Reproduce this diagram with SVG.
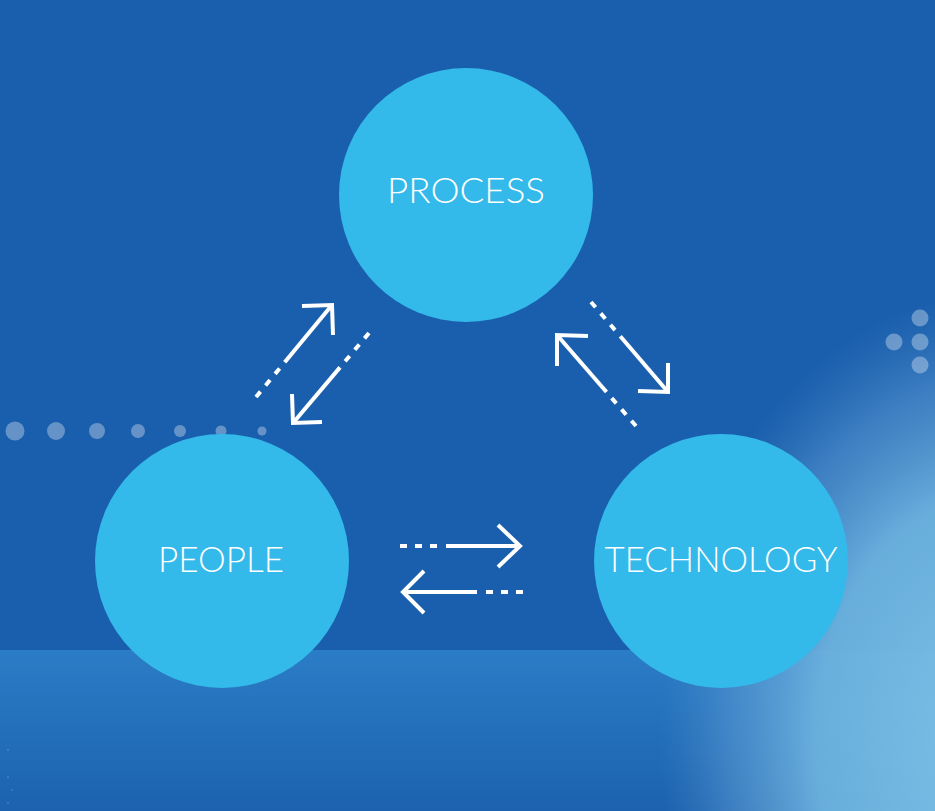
<svg xmlns="http://www.w3.org/2000/svg" width="935" height="811" viewBox="0 0 935 811">
<defs>
<linearGradient id="band" x1="0" y1="0" x2="0" y2="1">
<stop offset="0" stop-color="#2b7cc6"/>
<stop offset="1" stop-color="#1c62ae"/>
</linearGradient>
<radialGradient id="glow" gradientUnits="userSpaceOnUse" cx="0" cy="0" r="1" gradientTransform="translate(1005,740) scale(345,450)">
<stop offset="0" stop-color="#7cc2e8" stop-opacity="1"/>
<stop offset="0.55" stop-color="#6cb2de" stop-opacity="0.95"/>
<stop offset="0.8" stop-color="#5a9ad2" stop-opacity="0.55"/>
<stop offset="1" stop-color="#4a8acb" stop-opacity="0"/>
</radialGradient>
<style>
.node circle{fill:#33b9ea}
.lbl{font-family:Lato,"Open Sans","Liberation Sans",sans-serif;font-weight:300;font-size:35px;fill:#ffffff;text-anchor:middle}
.ln{stroke:#ffffff;stroke-width:4;fill:none;stroke-linecap:butt}
.dot{stroke-dasharray:7 8}
.hd{stroke:#ffffff;stroke-width:4;fill:none;stroke-linejoin:miter}
.bd{fill:#ffffff;fill-opacity:0.33}
</style>
</defs>
<rect width="935" height="811" fill="#1a5fad"/>
<rect x="0" y="650" width="935" height="161" fill="url(#band)"/>
<rect x="0" y="0" width="935" height="811" fill="url(#glow)"/>
<g id="dots-left">
<circle class="bd" cx="15" cy="431" r="9.5"/>
<circle class="bd" cx="56" cy="431" r="9"/>
<circle class="bd" cx="97" cy="431" r="8"/>
<circle class="bd" cx="138" cy="431" r="7"/>
<circle class="bd" cx="180" cy="431" r="6"/>
<circle class="bd" cx="221" cy="431" r="5.5"/>
<circle class="bd" cx="262" cy="431" r="4.5"/>
</g>
<g id="dots-right">
<circle class="bd" cx="920" cy="318" r="8.5"/>
<circle class="bd" cx="894" cy="342" r="8.5"/>
<circle class="bd" cx="920" cy="342" r="8.5"/>
<circle class="bd" cx="920" cy="365" r="8.5"/>
</g>
<g id="specks" fill="#ffffff" fill-opacity="0.25">
<rect x="7.5" y="749" width="1" height="2"/>
<rect x="7.5" y="776" width="1" height="2"/>
<rect x="11.5" y="789" width="1" height="2"/>
<rect x="7.5" y="802" width="1" height="2"/>
</g>
<g id="process" class="node">
<circle cx="466" cy="195" r="127"/>
<text class="lbl" x="466" y="203" textLength="158" lengthAdjust="spacingAndGlyphs">PROCESS</text>
</g>
<g id="people" class="node">
<circle cx="222" cy="561" r="127"/>
<text class="lbl" x="221" y="572" textLength="126" lengthAdjust="spacingAndGlyphs">PEOPLE</text>
</g>
<g id="technology" class="node">
<circle cx="721" cy="561" r="127"/>
<text class="lbl" x="721" y="572" textLength="233" lengthAdjust="spacingAndGlyphs">TECHNOLOGY</text>
</g>
<g id="connectors">
<g id="people-to-process">
<line class="ln dot" x1="256" y1="397" x2="279.6" y2="368.5"/>
<line class="ln" x1="284.7" y1="362.3" x2="332" y2="305"/>
<polyline class="hd" points="302,306 332,305 333,335"/>
</g>
<g id="process-to-people">
<line class="ln dot" x1="369" y1="333" x2="345.1" y2="361.3"/>
<line class="ln" x1="340" y1="367.4" x2="293" y2="423"/>
<polyline class="hd" points="292,394 293,423 322,422"/>
</g>
<g id="technology-to-process">
<line class="ln dot" x1="636" y1="426" x2="611.7" y2="398.1"/>
<line class="ln" x1="606.5" y1="392" x2="557" y2="335"/>
<polyline class="hd" points="588,336 557,335 557,366"/>
</g>
<g id="process-to-technology">
<line class="ln dot" x1="591" y1="302" x2="615" y2="330.1"/>
<line class="ln" x1="620.3" y1="336.2" x2="668" y2="392"/>
<polyline class="hd" points="668,363 668,392 638,391"/>
</g>
<g id="people-to-technology">
<line class="ln dot" x1="400" y1="546" x2="438" y2="546"/>
<line class="ln" x1="446" y1="546" x2="520" y2="546"/>
<polyline class="hd" points="498,525 520,546 498,567"/>
</g>
<g id="technology-to-people">
<line class="ln dot" x1="523" y1="592" x2="485" y2="592"/>
<line class="ln" x1="477" y1="592" x2="403" y2="592"/>
<polyline class="hd" points="424,571 403,592 424,613"/>
</g>
</g>
</svg>
